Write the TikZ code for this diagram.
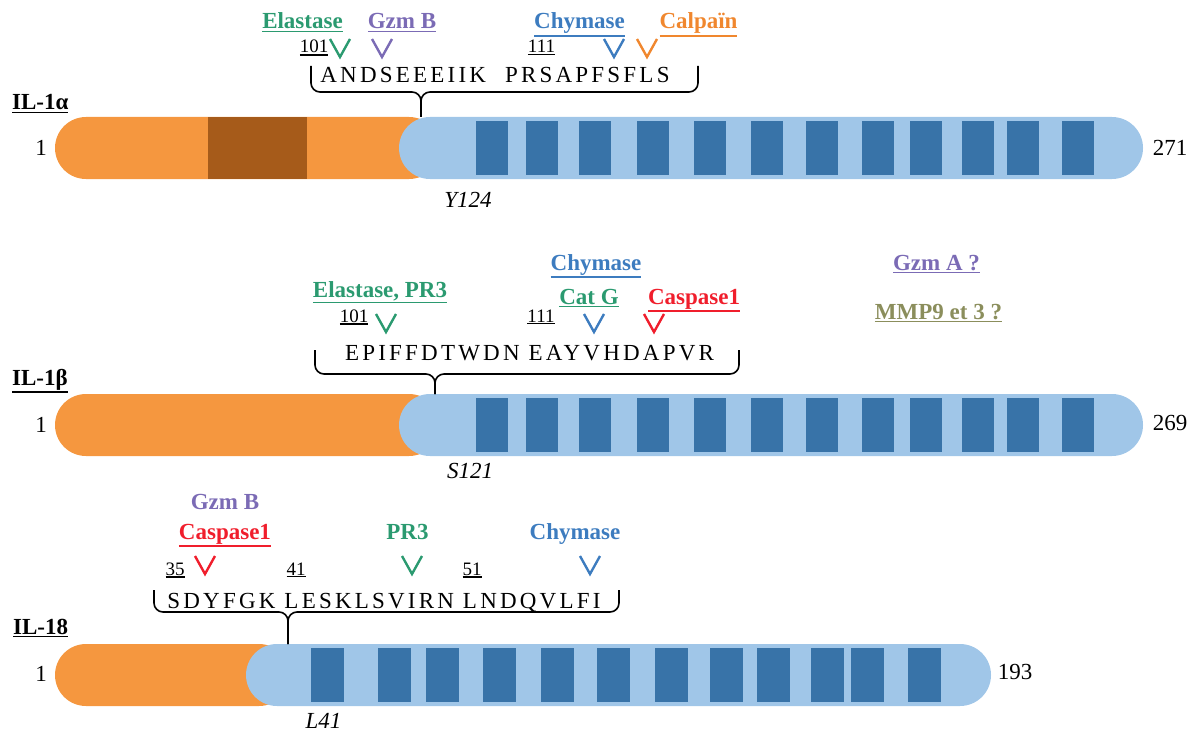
\documentclass[tikz,border=0pt]{standalone}
\usepackage{fontspec}
\setmainfont{Liberation Serif}
\newfontfamily\seqfont[LetterSpace=14]{Liberation Serif}
\usepackage{xcolor}
\usetikzlibrary{shapes.misc,positioning,calc}

\definecolor{barorange}{HTML}{F5973F}
\definecolor{barbrown}{HTML}{A65B1A}
\definecolor{barblue}{HTML}{A0C6E8}
\definecolor{blockblue}{HTML}{3873A8}
\definecolor{enzgreen}{HTML}{2B9A70}
\definecolor{enzpurple}{HTML}{7B6BB5}
\definecolor{enzblue}{HTML}{3D7CBF}
\definecolor{enzorange}{HTML}{F0872E}
\definecolor{enzred}{HTML}{F01E2C}
\definecolor{enzolive}{HTML}{8B8E5C}

\newcommand{\undl}[2][1.6pt]{\vtop{\hbox{#2}\kern1.3pt\hrule height #1}}

\tikzset{cleave/.pic={\draw[line width=2.4pt] (-10,-9) -- (0,9) -- (10,-9);}}

\begin{document}
\begin{tikzpicture}[x=1pt, y=-1pt]
  % Styles
  \tikzstyle{enz} = [font=\fontsize{23}{26}\selectfont\bfseries, inner sep=0pt, anchor=base]
  \tikzstyle{resnum} = [font=\fontsize{19}{21}\selectfont, inner sep=0pt, anchor=base]
  \tikzstyle{seq} = [font=\fontsize{23}{26}\selectfont\seqfont, inner sep=0pt, anchor=base]
  \tikzstyle{prot} = [font=\fontsize{23}{26}\selectfont\bfseries, inner sep=0pt, anchor=base west]
  \tikzstyle{term} = [font=\fontsize{23}{26}\selectfont, inner sep=0pt, anchor=base]
  \tikzstyle{site} = [font=\fontsize{23}{26}\selectfont\itshape, inner sep=0pt, anchor=base]
  \tikzstyle{pro} = [rounded rectangle, fill=barorange, minimum height=62pt, inner sep=0pt, outer sep=0pt]
  \tikzstyle{mat} = [rounded rectangle, fill=barblue, minimum height=62pt, inner sep=0pt, outer sep=0pt]
  \tikzstyle{brace} = [line width=1.6pt, rounded corners=9pt]

  \useasboundingbox (0,0) rectangle (1196,733);

  % IL-1 alpha
  \node [prot] (alphaName) at (12,110) {\undl{IL-1α}};
  \node [pro, minimum width=385pt] (alphaPro) at (247.5,148) {};
  \fill [barbrown] (208,117) rectangle (307,179);
  \node [mat, minimum width=744pt] (alphaMat) at (771,148) {};
  \foreach \x in {476,526,579,637,694,751,806,862,910,962,1007,1062}
    \fill [blockblue] (\x,121) rectangle ++(32,54);
  \node [term] (alphaN) at (41,155) {1};
  \node [term] (alphaC) at (1170,155) {271};
  \node [site] (alphaSite) at (468,207) {Y124};

  \node [enz, enzgreen] (alphaEla) at (302.5,29) {\undl{Elastase}};
  \node [enz, enzpurple] (alphaGzmB) at (402,29) {\undl{Gzm B}};
  \node [enz, enzblue] (alphaChy) at (579.5,29) {\undl{Chymase}};
  \node [enz, enzorange] (alphaCal) at (698.5,29) {\undl{Calpaïn}};
  \node [resnum] (alphaP101) at (314,53) {\undl[1.1pt]{101}};
  \node [resnum] (alphaP111) at (541.5,53) {\undl[1.1pt]{111}};
  \pic [enzgreen] at (340,48) {cleave};
  \pic [enzpurple] at (382,48) {cleave};
  \pic [enzblue] at (614,48) {cleave};
  \pic [enzorange] at (647,48) {cleave};
  \node [seq] (alphaSeq) at (495,83) {ANDSEEEIIK\hspace{10pt} PRSAPFSFLS};

  \coordinate (alphaL) at (311,66);
  \coordinate (alphaR) at (698,66);
  \coordinate (alphaTip) at (421,92);
  \draw [brace] (alphaL) |- (alphaTip) -- (alphaTip |- alphaMat.north);
  \draw [brace] (alphaR) |- (alphaTip) -- (alphaTip |- alphaMat.north);

  % IL-1 beta
  \node [prot] (betaName) at (12,385) {\undl{IL-1β}};
  \node [pro, minimum width=385pt] (betaPro) at (247.5,425) {};
  \node [mat, minimum width=744pt] (betaMat) at (771,425) {};
  \foreach \x in {476,526,579,637,694,751,806,862,910,962,1007,1062}
    \fill [blockblue] (\x,398) rectangle ++(32,54);
  \node [term] (betaN) at (41,432) {1};
  \node [term] (betaC) at (1170,430) {269};
  \node [site] (betaSite) at (470,478) {S121};

  \node [enz, enzblue] (betaChy) at (596,270) {\undl{Chymase}};
  \node [enz, enzpurple] (betaGzmA) at (936.5,270) {\undl{Gzm A ?}};
  \node [enz, enzgreen] (betaEla) at (380,297) {\undl{Elastase, PR3}};
  \node [enz, enzgreen] (betaCatG) at (589,304) {\undl{Cat G}};
  \node [enz, enzred] (betaCasp) at (694,304) {\undl{Caspase1}};
  \node [enz, enzolive] (betaMMP) at (938.5,319) {\undl{MMP9 et 3 ?}};
  \node [resnum] (betaP101) at (354,322) {\undl[1.1pt]{101}};
  \node [resnum] (betaP111) at (541,322) {\undl[1.1pt]{111}};
  \pic [enzgreen] at (386,323) {cleave};
  \pic [enzblue] at (594,323) {cleave};
  \pic [enzred] at (654,323) {cleave};
  \node [seq] (betaSeq) at (529.5,360) {EPIFFDTWDN EAYVHDAPVR};

  \coordinate (betaL) at (315,350);
  \coordinate (betaR) at (739,350);
  \coordinate (betaTip) at (435,374);
  \draw [brace] (betaL) |- (betaTip) -- (betaTip |- betaMat.north);
  \draw [brace] (betaR) |- (betaTip) -- (betaTip |- betaMat.north);

  % IL-18
  \node [prot] (ilName) at (13,634) {\undl{IL-18}};
  \node [pro, minimum width=235pt] (ilPro) at (172.5,675) {};
  \node [mat, minimum width=745pt] (ilMat) at (618.5,675) {};
  \foreach \x in {311,378,426,483,541,597,655,710,757,811,851,908}
    \fill [blockblue] (\x,648) rectangle ++(33,54);
  \node [term] (ilN) at (41,681) {1};
  \node [term] (ilC) at (1015,679) {193};
  \node [site] (ilSite) at (323.5,728) {L41};

  \node [enz, enzpurple] (ilGzmB) at (225,509) {Gzm B};
  \node [enz, enzred] (ilCasp) at (225,539) {\undl{Caspase1}};
  \node [enz, enzgreen] (ilPR3) at (407.5,539) {PR3};
  \node [enz, enzblue] (ilChy) at (575,539) {Chymase};
  \node [resnum] (ilP35) at (175,575) {\undl[1.1pt]{35}};
  \node [resnum] (ilP41) at (296,575) {\undl[1.1pt]{41}};
  \node [resnum] (ilP51) at (472,575) {\undl[1.1pt]{51}};
  \pic [enzred] at (205,565) {cleave};
  \pic [enzgreen] at (412,565) {cleave};
  \pic [enzblue] at (590,565) {cleave};
  \node [seq] (ilSeq) at (384,608) {SDYFGK LESKLSVIRN LNDQVLFI};

  \coordinate (ilL) at (154,590);
  \coordinate (ilR) at (619,590);
  \coordinate (ilTip) at (288,612);
  \draw [brace] (ilL) |- (ilTip) -- (ilTip |- ilMat.north);
  \draw [brace] (ilR) |- (ilTip) -- (ilTip |- ilMat.north);

\end{tikzpicture}
\end{document}
